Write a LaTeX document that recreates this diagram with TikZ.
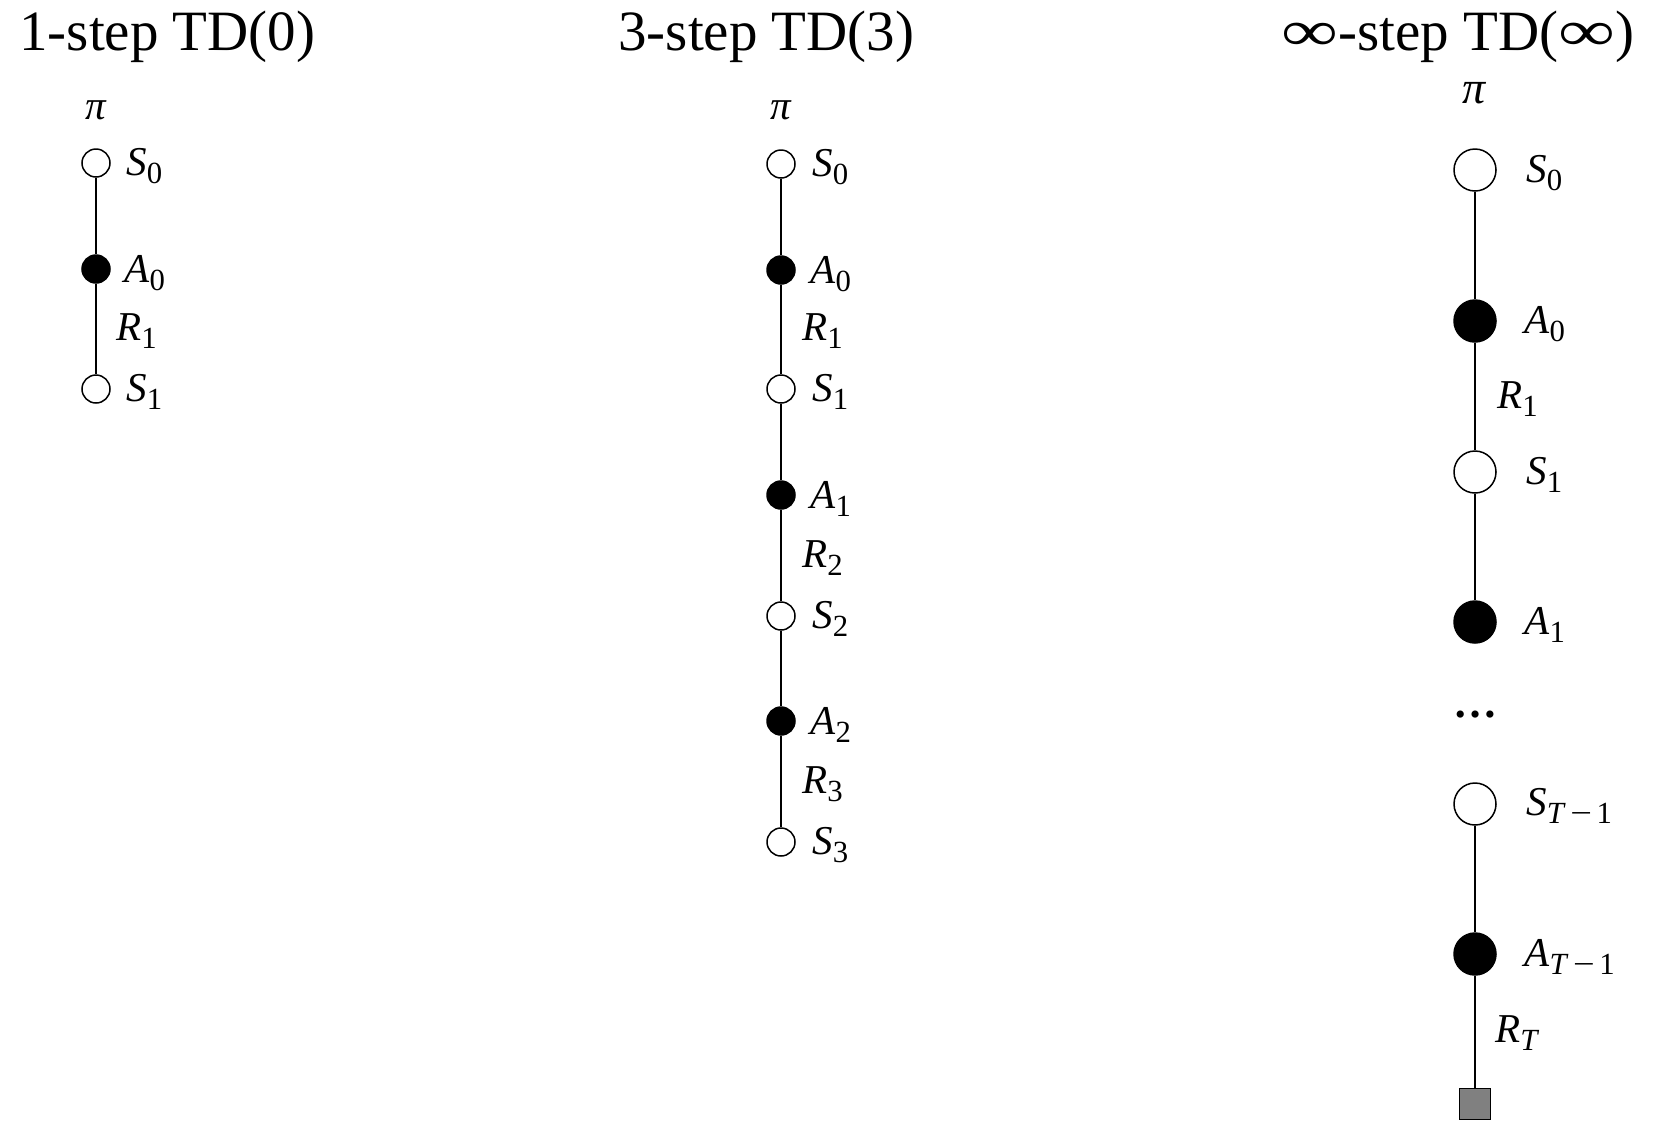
\documentclass[tikz,border=0pt]{standalone}
\usepackage{fontspec}
\usepackage{graphicx}
\setmainfont{Liberation Serif}
\newcommand\sublab[2]{\textit{#1}\raisebox{-0.2em}{\scalebox{0.75}{#2}}}
\newcommand\wideinf{\scalebox{1.4}[1]{∞}}
\newcommand\tmo{\textit{T}\kern0.15em\scalebox{1.25}[1]{−}\kern0.15em1}
\tikzset{
  ln/.style={line width=0.75pt},
  smallS/.style={circle, draw, fill=white, line width=0.75pt, minimum size=14pt, inner sep=0pt},
  smallA/.style={circle, draw, fill=black, line width=0.75pt, minimum size=14pt, inner sep=0pt},
  bigS/.style={circle, draw, fill=white, line width=0.75pt, minimum size=21pt, inner sep=0pt},
  bigA/.style={circle, draw, fill=black, line width=0.75pt, minimum size=21pt, inner sep=0pt},
  term/.style={rectangle, draw, fill=gray, line width=0.75pt, minimum size=15.5pt, inner sep=0pt},
  lab/.style={anchor=base west, inner sep=0pt, font=\fontsize{20.5}{20.5}\selectfont},
  dotsty/.style={anchor=base, inner sep=0pt, font=\fontsize{22}{22}\selectfont\bfseries},
  pis/.style={anchor=base, inner sep=0pt, font=\fontsize{20.5}{20.5}\selectfont},
  pib/.style={anchor=base, inner sep=0pt, font=\fontsize{23}{23}\selectfont},
  ttl/.style={anchor=base west, inner sep=0pt, font=\fontsize{28.5}{28.5}\selectfont}
}
\begin{document}
\begin{tikzpicture}[x=0.5pt,y=-0.5pt]
\useasboundingbox (0,0) rectangle (1680,1146);
% titles
\node[ttl] (t1) at (19,50) {1-step TD(0)};
\node[ttl] (t2) at (618,50) {3-step TD(3)};
\node[ttl] (t3) at (1281,50) {\wideinf-step TD(\wideinf)};
% column 1
\node[pis] (p1) at (96,119) {\textit{π}};
\node[smallS] (c1s0) at (96,163) {};
\node[smallA] (c1a0) at (96,269) {};
\node[smallS] (c1s1) at (96,389) {};
\draw[ln] (c1s0) -- (c1a0);
\draw[ln] (c1a0) -- (c1s1);
\node[lab] (c1ls0) at (126,175) {\sublab{S}{0}};
\node[lab] (c1la0) at (124,282) {\sublab{A}{0}};
\node[lab] (c1lr1) at (116,340) {\sublab{R}{1}};
\node[lab] (c1ls1) at (126,401) {\sublab{S}{1}};
% column 2
\node[pis] (p2) at (781,119) {\textit{π}};
\node[smallS] (c2s0) at (781,164) {};
\node[smallA] (c2a0) at (781,270) {};
\node[smallS] (c2s1) at (781,389) {};
\node[smallA] (c2a1) at (781,495) {};
\node[smallS] (c2s2) at (781,616) {};
\node[smallA] (c2a2) at (781,721) {};
\node[smallS] (c2s3) at (781,842) {};
\draw[ln] (c2s0) -- (c2a0);
\draw[ln] (c2a0) -- (c2s1);
\draw[ln] (c2s1) -- (c2a1);
\draw[ln] (c2a1) -- (c2s2);
\draw[ln] (c2s2) -- (c2a2);
\draw[ln] (c2a2) -- (c2s3);
\node[lab] (c2ls0) at (812,176) {\sublab{S}{0}};
\node[lab] (c2la0) at (810,283) {\sublab{A}{0}};
\node[lab] (c2lr1) at (802,340) {\sublab{R}{1}};
\node[lab] (c2ls1) at (812,401) {\sublab{S}{1}};
\node[lab] (c2la1) at (810,508) {\sublab{A}{1}};
\node[lab] (c2lr2) at (802,567) {\sublab{R}{2}};
\node[lab] (c2ls2) at (812,628) {\sublab{S}{2}};
\node[lab] (c2la2) at (810,734) {\sublab{A}{2}};
\node[lab] (c2lr3) at (802,793) {\sublab{R}{3}};
\node[lab] (c2ls3) at (812,854) {\sublab{S}{3}};
% column 3
\node[pib] (p3) at (1475,103) {\textit{π}};
\node[bigS] (c3s0) at (1475,170) {};
\node[bigA] (c3a0) at (1475,321) {};
\node[bigS] (c3s1) at (1475,472) {};
\node[bigA] (c3a1) at (1475,622) {};
\node[dotsty] (dots) at (1475,717) {…};
\node[bigS] (c3sT) at (1475,804) {};
\node[bigA] (c3aT) at (1475,954) {};
\node[term] (c3end) at (1475,1104) {};
\draw[ln] (c3s0) -- (c3a0);
\draw[ln] (c3a0) -- (c3s1);
\draw[ln] (c3s1) -- (c3a1);
\draw[ln] (c3sT) -- (c3aT);
\draw[ln] (c3aT) -- (c3end);
\node[lab] (c3ls0) at (1526,182) {\sublab{S}{0}};
\node[lab] (c3la0) at (1524,333) {\sublab{A}{0}};
\node[lab] (c3lr1) at (1497,408) {\sublab{R}{1}};
\node[lab] (c3ls1) at (1526,484) {\sublab{S}{1}};
\node[lab] (c3la1) at (1524,634) {\sublab{A}{1}};
\node[lab] (c3lsT) at (1526,815) {\sublab{S}{\tmo}};
\node[lab] (c3laT) at (1524,966) {\sublab{A}{\tmo}};
\node[lab] (c3lrT) at (1495,1042) {\sublab{R}{\textit{T}}};
\end{tikzpicture}
\end{document}
